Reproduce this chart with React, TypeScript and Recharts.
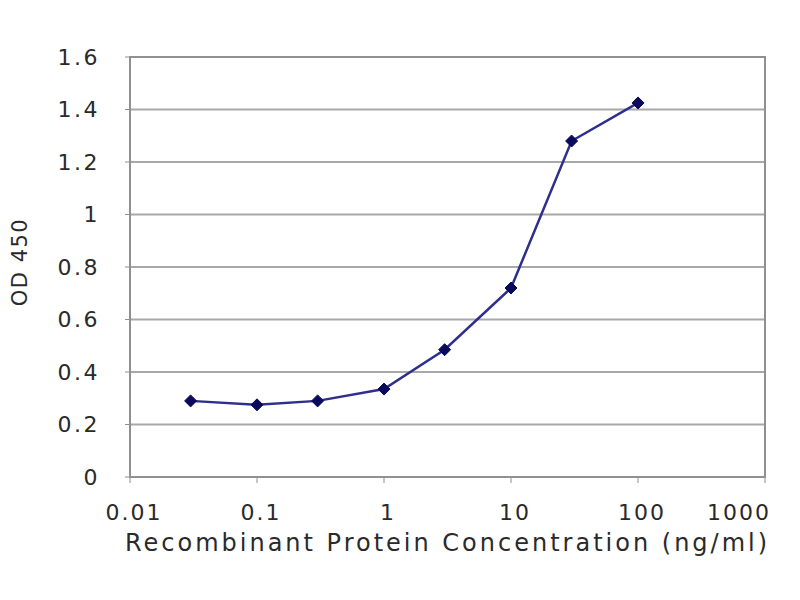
import React from 'react';
import { LineChart, Line, XAxis, YAxis, CartesianGrid, ReferenceArea, Text } from 'recharts';

const concentrations = [0.03, 0.1, 0.3, 1, 3, 10, 30, 100];
const odValues = [0.29, 0.275, 0.29, 0.335, 0.485, 0.72, 1.28, 1.425];
const xTicks = [0.01, 0.1, 1, 10, 100, 1000];
const yTicks = [0, 0.2, 0.4, 0.6, 0.8, 1, 1.2, 1.4, 1.6];

const data = concentrations.map((c, i) => ({ x: c, y: odValues[i] }));

const FONT = 'DejaVu Sans';
const textColor = '#2a2a2a';

const Diamond = (props: any) => {
  const { cx, cy } = props;
  if (cx == null || cy == null) return null;
  const r = 6;
  return (
    <polygon
      points={`${cx},${cy - r} ${cx + r},${cy} ${cx},${cy + r} ${cx - r},${cy}`}
      fill="#0a0a5c"
      stroke="#0a0a5c"
    />
  );
};

const XTick = (props: any) => {
  const { x, y, payload, index, visibleTicksCount } = props;
  const last = index === (visibleTicksCount ?? xTicks.length) - 1;
  return (
    <Text
      x={last ? x + 6 : x + 4}
      y={y}
      textAnchor={last ? 'end' : 'middle'}
      verticalAnchor="start"
      fill={textColor}
      fontFamily={FONT}
      fontSize={22}
      letterSpacing={2}
    >
      {String(payload.value)}
    </Text>
  );
};

export default function App() {
  return (
    <div style={{ width: 800, height: 600, background: '#fff' }}>
      <LineChart width={800} height={600} data={data} margin={{ top: 49, right: 43, bottom: 0, left: 0 }}>
        <CartesianGrid horizontal vertical={false} stroke="#a8a8a8" strokeWidth={2} />
        <ReferenceArea x1={0.01} x2={1000} y1={0} y2={1.6} fill="none" stroke="#909090" strokeWidth={2} ifOverflow="visible" />
        <XAxis
          dataKey="x"
          type="number"
          scale="log"
          domain={[0.01, 1000]}
          ticks={xTicks}
          allowDataOverflow
          height={131}
          tickSize={6}
          tickMargin={21}
          axisLine={{ stroke: '#909090', strokeWidth: 2 }}
          tickLine={{ stroke: '#909090', strokeWidth: 1 }}
          tick={<XTick />}
          label={{
            value: 'Recombinant Protein Concentration (ng/ml)',
            position: 'insideBottom',
            offset: 57,
            fill: textColor,
            fontFamily: FONT,
            fontSize: 24,
            letterSpacing: 3,
          }}
        />
        <YAxis
          type="number"
          domain={[0, 1.6]}
          ticks={yTicks}
          width={122}
          tickSize={5}
          tickMargin={25}
          axisLine={{ stroke: '#909090', strokeWidth: 2 }}
          tickLine={{ stroke: '#909090', strokeWidth: 1 }}
          tick={{ fill: textColor, fontFamily: FONT, fontSize: 22, letterSpacing: 2.5 }}
          tickFormatter={(v: number) => String(v)}
          label={{
            value: 'OD 450',
            angle: -90,
            position: 'insideLeft',
            offset: 12,
            dy: -5,
            fill: textColor,
            fontFamily: FONT,
            fontSize: 21,
            letterSpacing: 1.5,
            style: { textAnchor: 'middle' },
          }}
        />
        <Line
          type="linear"
          dataKey="y"
          stroke="#2e2e8e"
          strokeWidth={2.5}
          dot={<Diamond />}
          activeDot={false}
          isAnimationActive={false}
        />
      </LineChart>
    </div>
  );
}
